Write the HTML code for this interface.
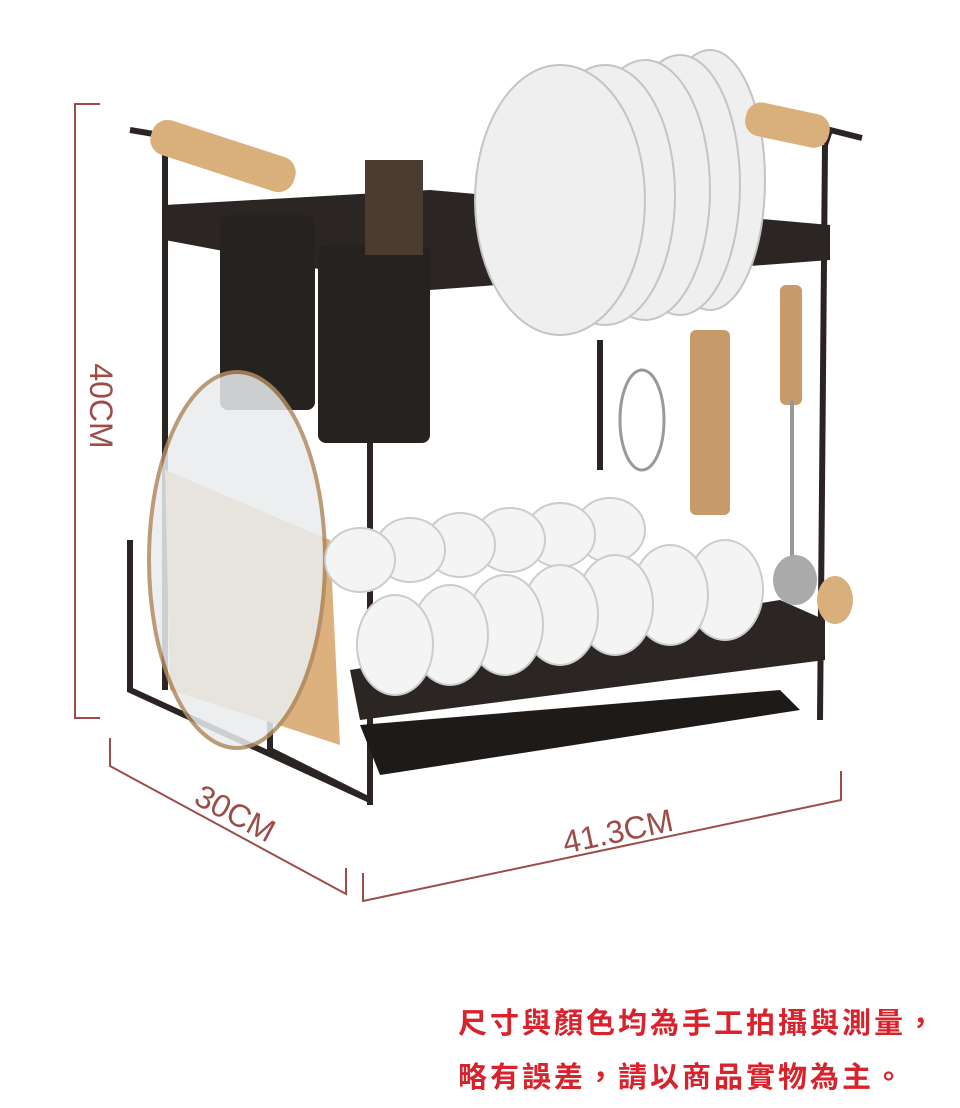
<!DOCTYPE html>
<html><head><meta charset="utf-8"><style>
html,body{margin:0;padding:0;background:#fff;}
body{width:960px;height:1108px;position:relative;overflow:hidden;}
svg{position:absolute;left:0;top:0;}
.t{font-family:"Liberation Sans","Noto Sans CJK TC",sans-serif;font-weight:bold;color:#d8222c;font-size:29px;position:absolute;left:458px;letter-spacing:3px;white-space:nowrap;}
</style></head><body>
<svg width="960" height="1108" viewBox="0 0 960 1108">
<g fill="none" stroke="#9c4d48" stroke-width="2">
<polyline points="100,104 75,104 75,718 100,718"/>
<polyline points="110,738 110,766 346,894 346,868"/>
<polyline points="363,873 363,901 841,800 841,771"/>
</g>
<g fill="#9c4d48" font-family="Liberation Sans,sans-serif" font-size="32">
<text transform="translate(90,406) rotate(90)" text-anchor="middle">40CM</text>
<text transform="translate(230,823) rotate(28)" text-anchor="middle">30CM</text>
<text transform="translate(620,842) rotate(-12)" text-anchor="middle">41.3CM</text>
</g>
<g stroke="#2a2522" fill="none" stroke-width="6">
<line x1="165" y1="150" x2="165" y2="690"/>
<line x1="370" y1="290" x2="370" y2="805"/>
<line x1="600" y1="340" x2="600" y2="470"/>
<line x1="825" y1="145" x2="820" y2="720"/>
<path d="M130 130 L160 135 L165 150"/>
<path d="M825 145 L830 130 L862 138"/>
<polyline points="130,540 130,690 370,800"/>
<polyline points="270,600 270,750 370,800"/>
</g>
<polygon points="165,205 430,190 830,225 830,260 430,290 165,240" fill="#2b2623"/>
<polygon points="350,670 780,600 825,620 825,660 360,720" fill="#2b2623"/>
<polygon points="360,725 780,690 800,710 380,775" fill="#1e1a18"/>
<rect x="220" y="215" width="95" height="195" rx="8" fill="#26221f"/>
<rect x="318" y="245" width="112" height="198" rx="8" fill="#26221f"/>
<rect x="365" y="160" width="58" height="95" fill="#4a3c30"/>
<g fill="#efefef" stroke="#c4c4c4" stroke-width="2">
<ellipse cx="710" cy="180" rx="55" ry="130"/>
<ellipse cx="680" cy="185" rx="60" ry="130"/>
<ellipse cx="645" cy="190" rx="65" ry="130"/>
<ellipse cx="605" cy="195" rx="70" ry="130"/>
<ellipse cx="560" cy="200" rx="85" ry="135"/>
</g>
<rect x="148" y="138" width="150" height="36" rx="16" fill="#d9b07c" transform="rotate(18 223 156)"/>
<rect x="745" y="108" width="85" height="34" rx="15" fill="#d9b07c" transform="rotate(12 787 125)"/>
<polygon points="165,470 330,540 340,745 170,690" fill="#ddb17d"/>
<ellipse cx="237" cy="560" rx="88" ry="188" fill="#e9ecee" stroke="#b08a60" stroke-width="4" opacity="0.85"/>
<g fill="#f4f4f4" stroke="#ccc" stroke-width="2">
<ellipse cx="610" cy="530" rx="35" ry="32"/><ellipse cx="560" cy="535" rx="35" ry="32"/>
<ellipse cx="510" cy="540" rx="35" ry="32"/><ellipse cx="460" cy="545" rx="35" ry="32"/>
<ellipse cx="410" cy="550" rx="35" ry="32"/><ellipse cx="360" cy="560" rx="35" ry="32"/>
<ellipse cx="725" cy="590" rx="38" ry="50"/><ellipse cx="670" cy="595" rx="38" ry="50"/>
<ellipse cx="615" cy="605" rx="38" ry="50"/><ellipse cx="560" cy="615" rx="38" ry="50"/>
<ellipse cx="505" cy="625" rx="38" ry="50"/><ellipse cx="450" cy="635" rx="38" ry="50"/>
<ellipse cx="395" cy="645" rx="38" ry="50"/>
</g>
<ellipse cx="642" cy="420" rx="22" ry="50" fill="none" stroke="#999" stroke-width="3"/>
<rect x="690" y="330" width="40" height="185" rx="6" fill="#c79a6a"/>
<rect x="780" y="285" width="22" height="120" rx="6" fill="#c79a6a"/>
<line x1="792" y1="400" x2="792" y2="560" stroke="#999" stroke-width="4"/>
<ellipse cx="795" cy="580" rx="22" ry="25" fill="#aaa"/>
<ellipse cx="835" cy="600" rx="18" ry="24" fill="#d9b07c"/>
</svg>
<div class="t" style="top:1000px;">尺寸與顏色均為手工拍攝與測量，</div>
<div class="t" style="top:1054px;">略有誤差，請以商品實物為主。</div>
</body></html>
